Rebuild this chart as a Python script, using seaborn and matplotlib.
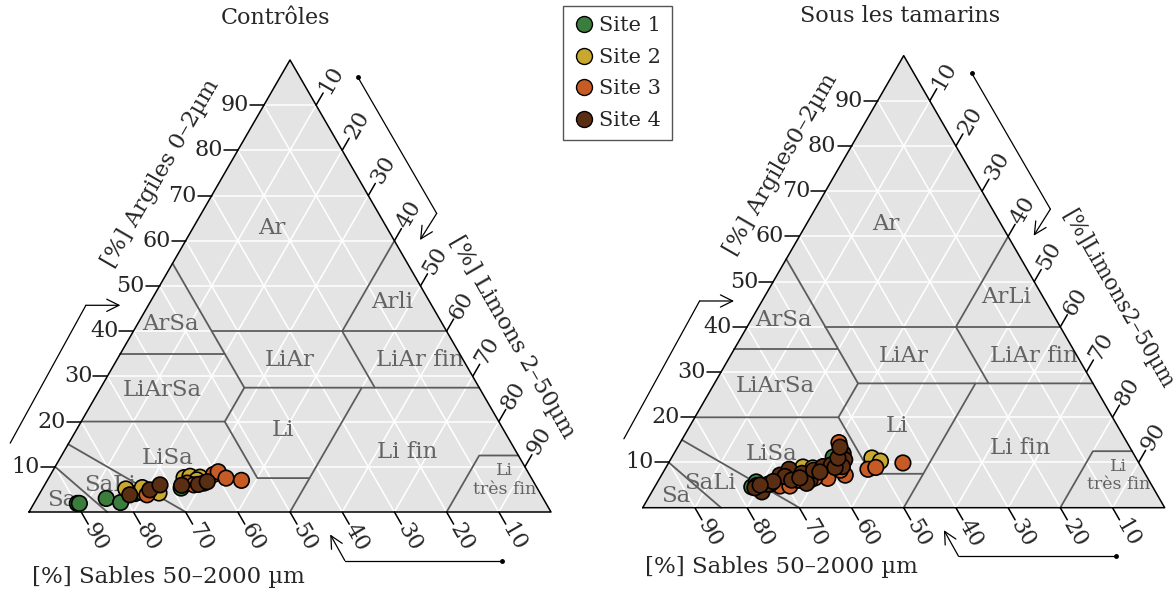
import numpy as np
import pandas as pd
import matplotlib.pyplot as plt
import seaborn as sns
from matplotlib.lines import Line2D

sns.set_style('white')
plt.rcParams['font.family'] = ['DejaVu Serif']

# Site colours
sites = ['Site 1', 'Site 2', 'Site 3', 'Site 4']
site_colors = {'Site 1': '#3b7d3c', 'Site 2': '#c9a82e', 'Site 3': '#c65b25', 'Site 4': '#5a2e12'}

# Controls: sand % and clay % per site
ctrl_s1_sand = [89.8, 89.4, 83.7, 81.4, 77.6, 76.3, 68.2]
ctrl_s1_clay = [1.9, 1.9, 3.0, 2.1, 4.1, 4.4, 5.3]
ctrl_s2_sand = [78.9, 75.6, 73.0, 66.5, 65.2, 63.4, 64.3]
ctrl_s2_clay = [5.1, 5.4, 4.2, 7.6, 7.9, 7.7, 7.1]
ctrl_s3_sand = [75.5, 66.5, 65.4, 63.3, 60.5, 59.3, 58.5, 55.8]
ctrl_s3_clay = [3.8, 6.4, 6.0, 6.4, 8.3, 8.9, 7.5, 7.0]
ctrl_s4_sand = [78.8, 74.4, 71.9, 67.8, 64.5, 62.5]
ctrl_s4_clay = [3.8, 4.9, 6.0, 5.9, 6.1, 6.7]

# Under tamarind trees
tam_s1_sand = [76.8, 75.4, 75.3, 57.9]
tam_s1_clay = [4.6, 5.7, 4.4, 11.2]
tam_s2_sand = [75.7, 64.8, 63.0, 66.8, 67.3, 50.6, 49.3]
tam_s2_clay = [4.9, 9.0, 8.8, 6.1, 6.5, 11.0, 10.3]
tam_s3_sand = [55.2, 52.6, 50.9, 45.2, 71.3, 69.4, 61.3, 57.6, 63.7, 73.0, 58.0, 67.3]
tam_s3_clay = [14.4, 8.5, 8.9, 9.9, 4.8, 4.8, 6.5, 7.2, 6.6, 5.2, 8.3, 6.1]
tam_s4_sand = [75.4, 73.4, 70.1, 67.7, 65.7, 64.9, 63.1, 60.9, 59.1, 55.6, 56.0, 57.2,
               58.7, 69.3, 72.1, 65.9, 68.4, 76.3, 75.0, 66.6, 62.1, 57.1, 55.5]
tam_s4_clay = [3.5, 5.2, 7.2, 8.5, 7.6, 6.1, 8.3, 9.1, 9.5, 12.0, 10.6, 9.1,
               8.9, 6.9, 5.8, 5.4, 6.1, 4.4, 5.0, 6.6, 7.9, 11.0, 13.4]

tick_values = [10, 20, 30, 40, 50, 60, 70, 80, 90]

# Texture class boundaries as (sand, clay) polylines
class_lines = [
    [(90, 10), (85, 0)],
    [(85, 15), (70, 0)],
    [(80, 20), (52.5, 20), (52.5, 7.5), (42.5, 7.5)],
    [(50, 0), (22.5, 27.5)],
    [(52.5, 20), (45, 27.5), (0, 27.5)],
    [(45, 55), (45, 27.5)],
    [(65, 35), (45, 35)],
    [(45, 40), (0, 40)],
    [(20, 27.5), (20, 40), (0, 60)],
    [(20, 0), (7.5, 12.5), (0, 12.5)],
]

# Class names with (sand, clay) position
class_names = [('Ar', 22.0, 62.8), ('Arli', 7.2, 46.5), ('ArSa', 52.2, 41.6),
               ('LiAr', 33.2, 33.6), ('LiAr fin', 8.3, 33.6), ('LiArSa', 61.0, 27.0),
               ('Li', 42.3, 18.1), ('Li fin', 21.0, 13.3), ('LiSa', 67.4, 11.9),
               ('SaLi', 81.5, 6.0), ('Sa', 92.4, 2.6)]

SQ = np.sqrt(3) / 2
PX = 5.22  # pixels per percent
TL = 14 / PX  # tick length


def to_xy(sand, clay):
    sand = np.asarray(sand, float)
    clay = np.asarray(clay, float)
    return 100 - sand - clay / 2, clay * SQ


def make_frame(groups):
    rows = []
    for site, (sand, clay) in zip(sites, groups):
        x, y = to_xy(sand, clay)
        rows.append(pd.DataFrame({'x': x, 'y': y, 'site': site}))
    return pd.concat(rows, ignore_index=True)


def draw_panel(ax, df, names, argiles_txt, argiles_xy, limons_txt, limons_xy, limons_size, sables_xy):
    cx, cy = to_xy([100, 0, 0], [0, 0, 100])
    ax.fill(cx, cy, color='#e4e4e4', lw=0, zorder=0)

    # white grid
    for v in tick_values:
        for s, c in [((100 - v, 0), (v, v)), ((v, v), (0, 100 - v)), ((100 - v, 0), (0, 100 - v))]:
            gx, gy = to_xy(s, c)
            ax.plot(gx, gy, color='white', lw=1.1, zorder=1)

    # texture classes
    for line in class_lines:
        s, c = zip(*line)
        gx, gy = to_xy(s, c)
        ax.plot(gx, gy, color='#5c5c5c', lw=1.3, zorder=2)
    for name, s, c in names:
        tx, ty = to_xy(s, c)
        ax.text(tx, ty, name, ha='center', va='center', fontsize=16.5, color='#636363', zorder=3)
    tx, ty = to_xy(5.3, 7.1)
    ax.text(tx, ty, 'Li\ntrès fin', ha='center', va='center', fontsize=12.5,
            color='#636363', linespacing=1.1, zorder=3)

    ax.plot(np.append(cx, cx[0]), np.append(cy, cy[0]), color='black', lw=1.1, zorder=4)

    # ticks
    for v in tick_values:
        ex, ey = to_xy(100 - v, v)
        ax.plot([ex, ex - TL], [ey, ey], color='black', lw=1.1, clip_on=False)
        ax.text(ex - TL - 0.2, ey, str(v), ha='right', va='center', fontsize=16)

        ex, ey = to_xy(v, 0)
        dx, dy = 0.5 * TL, -SQ * TL
        ax.plot([ex, ex + dx], [ey, ey + dy], color='black', lw=1.1, clip_on=False)
        ax.text(ex + dx * 1.1, ey + dy * 1.1, str(v), rotation=-60, rotation_mode='anchor',
                ha='left', va='center', fontsize=16)

        ex, ey = to_xy(0, 100 - v)
        dx, dy = 0.5 * TL, SQ * TL
        ax.plot([ex, ex + dx], [ey, ey + dy], color='black', lw=1.1, clip_on=False)
        ax.text(ex + dx * 1.1, ey + dy * 1.1, str(v), rotation=60, rotation_mode='anchor',
                ha='left', va='center', fontsize=16)

    # axis titles
    ax.text(*argiles_xy, argiles_txt, rotation=60, ha='center', va='center', fontsize=16.5)
    ax.text(*limons_xy, limons_txt, rotation=-60, ha='center', va='center', fontsize=limons_size)
    ax.text(*sables_xy, '[%] Sables 50–2000 µm', ha='left', va='center', fontsize=16.5)

    # direction arrows
    arrows = [[(-3.6, 13.2), (10.9, 39.6), (17.5, 39.6)],
              [(63.0, 83.3), (78.1, 57.2), (74.9, 52.1)],
              [(90.6, -9.3), (60.5, -9.3), (57.7, -4.3)]]
    for i, pts in enumerate(arrows):
        px, py = zip(*pts)
        ax.plot(px[:2], py[:2], color='black', lw=0.9, clip_on=False)
        ax.annotate('', xy=pts[2], xytext=pts[1],
                    arrowprops=dict(arrowstyle='->', lw=0.9, color='black',
                                    mutation_scale=22, shrinkA=0, shrinkB=0))
        if i > 0:
            ax.plot(px[0], py[0], 'o', color='black', ms=2.5, clip_on=False)

    sns.scatterplot(data=df, x='x', y='y', hue='site', palette=site_colors, s=125,
                    edgecolor='black', linewidth=1.2, legend=False, ax=ax, zorder=6)
    ax.axis('off')


def make_ax(x0, corner):
    ax = fig.add_axes([x0 / 1176, 0, 588 / 1176, 1])
    ax.set_xlim((x0 - corner[0]) / PX, (x0 + 588 - corner[0]) / PX)
    ax.set_ylim(-(589 - corner[1]) / PX, corner[1] / PX)
    return ax


fig = plt.figure(figsize=(11.76, 5.89), dpi=100)

ctrl = make_frame([(ctrl_s1_sand, ctrl_s1_clay), (ctrl_s2_sand, ctrl_s2_clay),
                   (ctrl_s3_sand, ctrl_s3_clay), (ctrl_s4_sand, ctrl_s4_clay)])
tam = make_frame([(tam_s1_sand, tam_s1_clay), (tam_s2_sand, tam_s2_clay),
                  (tam_s3_sand, tam_s3_clay), (tam_s4_sand, tam_s4_clay)])

ax1 = make_ax(0, (29, 512))
draw_panel(ax1, ctrl, class_names, '[%] Argiles 0–2µm', (25.3, 64.9),
           '[%] Limons 2–50µm', (92.6, 33.5), 16.5, (0.6, -12.4))

names_right = [(('ArLi' if n == 'Arli' else n), s, c) for n, s, c in class_names]
names_right = [(n, 69.3, 11.9) if n == 'LiSa' else (n, 84.4, 5.5) if n == 'SaLi' else (n, s, c)
               for n, s, c in names_right]
ax2 = make_ax(588, (642.7, 507.7))
draw_panel(ax2, tam, names_right, '[%] Argiles0–2µm', (26.5, 65.8),
           '[%]Limons2–50µm', (90.9, 40.0), 15.5, (0.4, -11.3))

fig.text(275 / 1176, 1 - 18 / 589, 'Contrôles', ha='center', va='center', fontsize=16)
fig.text(900 / 1176, 1 - 16 / 589, 'Sous les tamarins', ha='center', va='center', fontsize=16)

handles = [Line2D([], [], marker='o', ls='', markerfacecolor=site_colors[s],
                  markeredgecolor='black', markersize=11.5) for s in sites]
fig.legend(handles, sites, loc='upper left', bbox_to_anchor=(563 / 1176, 1 - 6 / 589),
           frameon=True, fancybox=False, edgecolor='#555555', framealpha=1, fontsize=15,
           handletextpad=0.25, borderpad=0.5, labelspacing=0.6, handlelength=1.0,
           borderaxespad=0)

plt.savefig('out.png', dpi=100)
